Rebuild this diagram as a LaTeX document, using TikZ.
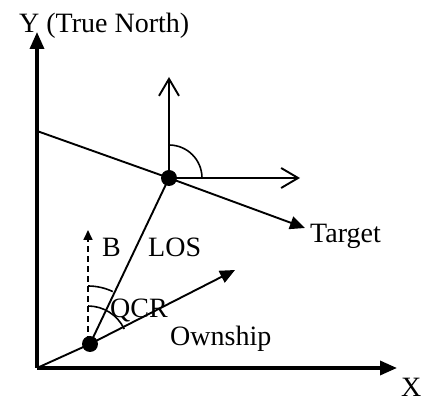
\documentclass[tikz,border=0pt]{standalone}
\usepackage{fontspec}
\setmainfont{Liberation Serif}
\usetikzlibrary{arrows.meta}
\begin{document}
\begin{tikzpicture}[x=1pt,y=1pt,
  axis/.style={line width=3.4pt,-{Triangle[length=17pt,width=14pt]}},
  thin line/.style={line width=1.9pt},
  filled tip/.style={thin line,-{Triangle[length=15pt,width=13pt]}},
  open tip/.style={thin line,-{Straight Barb[length=17pt,width=20pt]}},
  dashline/.style={line width=1.7pt,dash pattern=on 6pt off 4pt,-{Triangle[length=10pt,width=9pt]}},
  angarc/.style={line width=1.6pt},
  dot/.style={circle,fill=black,inner sep=0pt,minimum size=16pt},
  lbl/.style={inner sep=0pt,anchor=base west,font=\fontsize{28}{34}\selectfont}]
\useasboundingbox (0,0) rectangle (424,402);
% points
\coordinate (O) at (37,34);
\coordinate (Ytip) at (37,370);
\coordinate (Xtip) at (397,34);
\coordinate (Ostip) at (235,132);
\coordinate (Tl) at (37,271);
\coordinate (Ttip) at (305,174);
\coordinate (Vtip) at (169,325);
\coordinate (Htip) at (300,222);
\coordinate (Btip) at (88,172);
\coordinate (Bbase) at (88,60);
\node[dot] (S) at (90,58) {};
\node[dot] (T) at (169,224) {};
% axes
\draw[axis] (O) -- (Ytip);
\draw[axis] (O) -- (Xtip);
% ownship
\draw[thin line] (O) -- (S.center);
\draw[filled tip] (S.center) -- (Ostip);
% LOS
\draw[thin line] (S.center) -- (T.center);
% target line
\draw[thin line] (Tl) -- (T.center);
\draw[filled tip] (T.center) -- (Ttip);
% north / east at target
\draw[open tip] (T.center) -- (Vtip);
\draw[open tip] (T.center) -- (T.center -| Htip) coordinate (Hend);
\draw[angarc] ([yshift=33pt]T.center) arc[start angle=90,end angle=0,radius=33pt];
% B dashed
\draw[dashline] (Bbase) -- (Btip);
% angle arcs at ownship
\draw[angarc] ([shift={(-2pt,0pt)}]S.center) ++(0,58) arc[start angle=90,end angle=64.7,radius=58pt];
\draw[angarc] ([shift={(-2pt,0pt)}]S.center) ++(0,38) arc[start angle=90,end angle=25,radius=40pt];
% labels
\node[lbl] (ylab) at (19,369) {Y (True North)};
\node[lbl] (xlab) at (401,5) {X};
\node[lbl] (tlab) at (310,159) {Target};
\node[lbl] (blab) at (102,145) {B};
\node[lbl] (loslab) at (148,145) {LOS};
\node[lbl] (qlab) at (110,84) {QCR};
\node[lbl] (olab) at (170,56) {Ownship};
\end{tikzpicture}
\end{document}
